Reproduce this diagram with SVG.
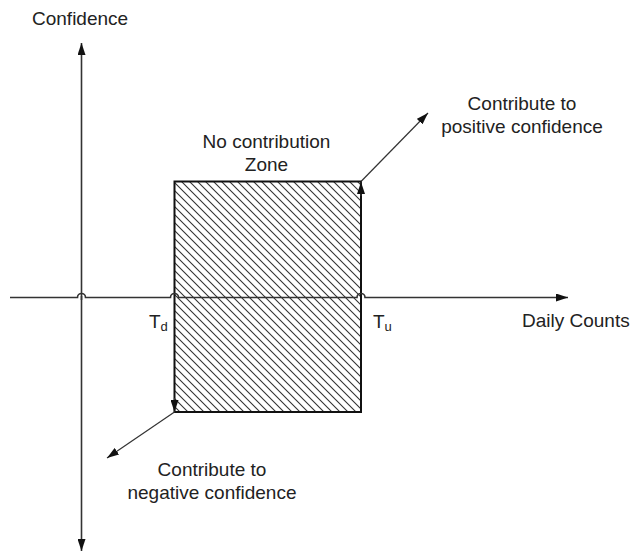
<svg xmlns="http://www.w3.org/2000/svg" width="632" height="553" viewBox="0 0 632 553">
<style>
.t{font-family:"Liberation Sans",Arial,sans-serif;font-size:19px;fill:#222}
.s{font-family:"Liberation Sans",Arial,sans-serif;font-size:13px;fill:#222}
.ax{stroke:#333;stroke-width:1.6;fill:none}
.ar{stroke:#333;stroke-width:1.2;fill:none}
</style>
<defs>
<pattern id="hatch" patternUnits="userSpaceOnUse" width="8" height="8">
<path d="M0,0 L8,8 M-2,6 L2,10 M6,-2 L10,2" stroke="#333" stroke-width="1.1"/>
</pattern>
<marker id="ah" viewBox="0 0 12 8" refX="12" refY="4" markerWidth="12" markerHeight="8" markerUnits="userSpaceOnUse" orient="auto">
<path d="M0,0 L12,4 L0,8 Z" fill="#111"/>
</marker>
</defs>
<g id="zone">
<rect x="174.5" y="181.5" width="186.5" height="230.5" fill="url(#hatch)" stroke="#111" stroke-width="2"/>
</g>
<g id="connectors">
<line class="ax" x1="81.5" y1="300" x2="81.5" y2="43" marker-end="url(#ah)"/>
<line class="ax" x1="81.5" y1="296" x2="81.5" y2="551" marker-end="url(#ah)"/>
<path class="ax" d="M10,297.5 H77.5 A4,4 0 0 1 85.5,297.5 H170.5 A4,4 0 0 1 178.5,297.5 H357 A4,4 0 0 1 365,297.5 H568" marker-end="url(#ah)"/>
<line class="ar" x1="361" y1="196" x2="361" y2="182" marker-end="url(#ah)"/>
<line class="ar" x1="361" y1="181.5" x2="428" y2="113" marker-end="url(#ah)"/>
<line class="ar" x1="174.5" y1="398" x2="174.5" y2="412" marker-end="url(#ah)"/>
<line class="ar" x1="174.5" y1="412" x2="107" y2="458" marker-end="url(#ah)"/>
</g>
<g id="labels">
<text class="t" x="32" y="25">Confidence</text>
<text class="t" x="522" y="327">Daily Counts</text>
<text class="t" x="266.5" y="148" text-anchor="middle">No contribution</text>
<text class="t" x="266.5" y="171" text-anchor="middle">Zone</text>
<text class="t" x="522" y="110" text-anchor="middle">Contribute to</text>
<text class="t" x="522" y="133" text-anchor="middle">positive confidence</text>
<text class="t" x="212" y="476" text-anchor="middle">Contribute to</text>
<text class="t" x="212" y="499" text-anchor="middle">negative confidence</text>
<text class="t" x="149" y="328">T<tspan class="s" dx="0" dy="3">d</tspan></text>
<text class="t" x="373" y="328">T<tspan class="s" dx="0" dy="3">u</tspan></text>
</g>
</svg>
